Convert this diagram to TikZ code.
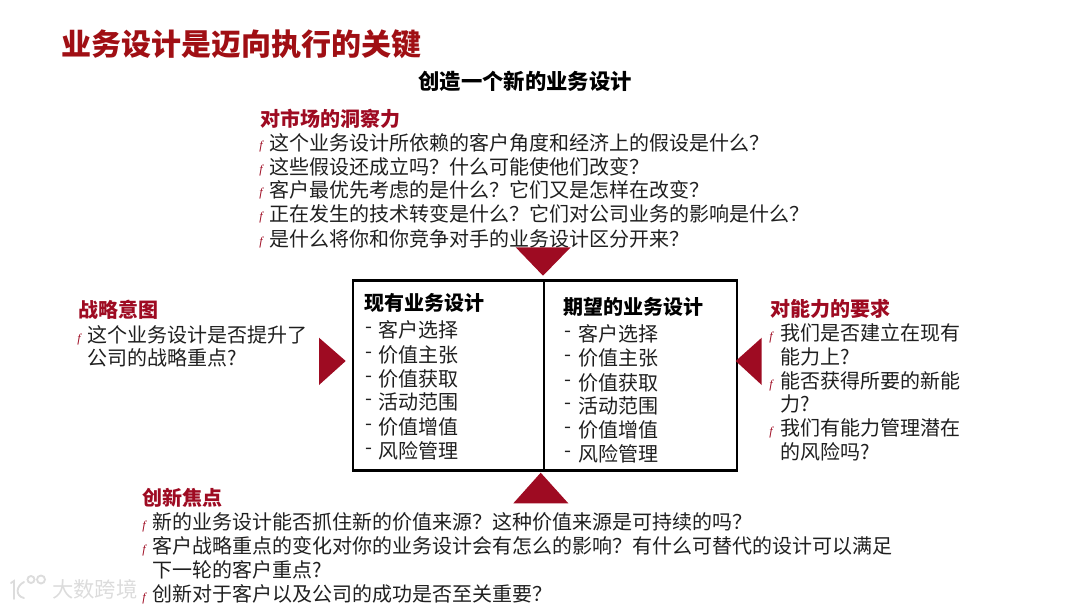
\documentclass[tikz,border=0pt]{standalone}
\usepackage{fontspec}
\setmainfont{Noto Sans CJK SC}
\newfontfamily\bulfont{Liberation Serif}
\definecolor{brickred}{HTML}{9E0B22}
\definecolor{titlered}{HTML}{A00F14}
\definecolor{wmgrey}{HTML}{DCDCDC}
\newcommand{\fsz}[1]{\fontsize{#1}{#1}\selectfont}
\newcommand{\fq}{\char"FF1F\relax}
\tikzset{
  x=0.75pt,y=-0.75pt,
  txt/.style={anchor=west,inner sep=0pt,text=black!88,font=\fsz{15}},
  heading/.style={anchor=west,inner sep=0pt,text=brickred,font=\fsz{15}\bfseries},
  bul/.style={anchor=west,inner sep=0pt,text=brickred,font=\fsz{9}\bulfont\itshape},
  subhead/.style={anchor=west,inner sep=0pt,text=black,font=\fsz{15}\bfseries},
  arrowtri/.style={fill=brickred,draw=none},
  boxline/.style={draw=black,line width=1.6pt},
  wmstroke/.style={draw=wmgrey,line width=1.4pt,line cap=round},
}
\begin{document}
\begin{tikzpicture}
\useasboundingbox (0,0) rectangle (1080,608);
\node[anchor=west,inner sep=0pt,text=titlered,font=\fsz{22.5}\bfseries] (title) at (61,44) {业务设计是迈向执行的关键};
\node[anchor=center,inner sep=0pt,text=black,font=\fsz{16}\bfseries] (sub) at (525,81) {创造一个新的业务设计};
% top
\node[heading] (h1) at (260,119) {对市场的洞察力};
\foreach \y/\t/\n in {
  143/这个业务设计所依赖的客户角度和经济上的假设是什么\fq/a,
  167/这些假设还成立吗\fq 什么可能使他们改变\fq/b,
  190/客户最优先考虑的是什么\fq 它们又是怎样在改变\fq/c,
  214/正在发生的技术转变是什么\fq 它们对公司业务的影响是什么\fq/d,
  239/是什么将你和你竞争对手的业务设计区分开来\fq/e}{
  \node[bul] (t\n f) at (259,\y+4) {f};
  \node[txt] (t\n) at (269,\y) {\t};
}
% left
\node[heading] (h2) at (78,310) {战略意图};
\node[bul] (lf) at (77,340) {f};
\node[txt] (l1) at (87,335) {这个业务设计是否提升了};
\node[txt] (l2) at (87,358) {公司的战略重点?};
% right
\node[heading] (h3) at (770,309) {对能力的要求};
\node[bul] (r1f) at (769,338) {f};
\node[txt] (r1) at (780,333) {我们是否建立在现有};
\node[txt] (r1b) at (780,357) {能力上?};
\node[bul] (r2f) at (769,386) {f};
\node[txt] (r2) at (780,381) {能否获得所要的新能};
\node[txt] (r2b) at (780,404) {力?};
\node[bul] (r3f) at (769,433) {f};
\node[txt] (r3) at (780,428) {我们有能力管理潜在};
\node[txt] (r3b) at (780,452) {的风险吗?};
% bottom
\node[heading] (h4) at (142,498) {创新焦点};
\node[bul] (b1f) at (142,527) {f};
\node[txt] (b1) at (152,522) {新的业务设计能否抓住新的价值来源\fq 这种价值来源是可持续的吗\fq};
\node[bul] (b2f) at (142,551) {f};
\node[txt] (b2) at (152,546) {客户战略重点的变化对你的业务设计会有怎么的影响\fq 有什么可替代的设计可以满足};
\node[txt] (b2b) at (152,570) {下一轮的客户重点?};
\node[bul] (b3f) at (142,599) {f};
\node[txt] (b3) at (152,594) {创新对于客户以及公司的成功是否至关重要\fq};
% centre box
\draw[boxline] (353,280.5) rectangle (737,470.5);
\draw[boxline] (544.3,280.5) -- (544.3,470.5);
\node[subhead] (cl) at (364.5,303) {现有业务设计};
\node[subhead] (cr) at (563.5,307) {期望的业务设计};
\foreach \i/\yl/\yr/\t in {1/330/334/客户选择,2/355/358/价值主张,3/379/383/价值获取,4/402/406/活动范围,5/427/430/价值增值,6/451/454/风险管理}{
  \node[txt] (dl\i) at (365,\yl) {-};
  \node[txt] (il\i) at (378.5,\yl) {\t};
  \node[txt] (dr\i) at (564.5,\yr) {-};
  \node[txt] (ir\i) at (578,\yr) {\t};
}
% triangles
\fill[arrowtri] (515.7,247.3) -- (570.7,247.3) -- (543,275.7) -- cycle;
\fill[arrowtri] (513.3,503.3) -- (568.3,503.3) -- (540.7,472.7) -- cycle;
\fill[arrowtri] (319,337.7) -- (345.7,361) -- (319,385) -- cycle;
\fill[arrowtri] (761.7,337.7) -- (735.7,361) -- (761.7,385) -- cycle;
% watermark
\node[anchor=west,inner sep=0pt,text=wmgrey,font=\fsz{16}] (wm) at (52,589) {大数跨境};
\draw[wmstroke] (11,583) -- (14,581) -- (14,599);
\draw[wmstroke] (24,582) .. controls (16,586) and (15,596) .. (24,598);
\draw[wmstroke] (31,579.5) circle[radius=3.5];
\draw[wmstroke] (41,579.5) circle[radius=4];
\end{tikzpicture}
\end{document}
